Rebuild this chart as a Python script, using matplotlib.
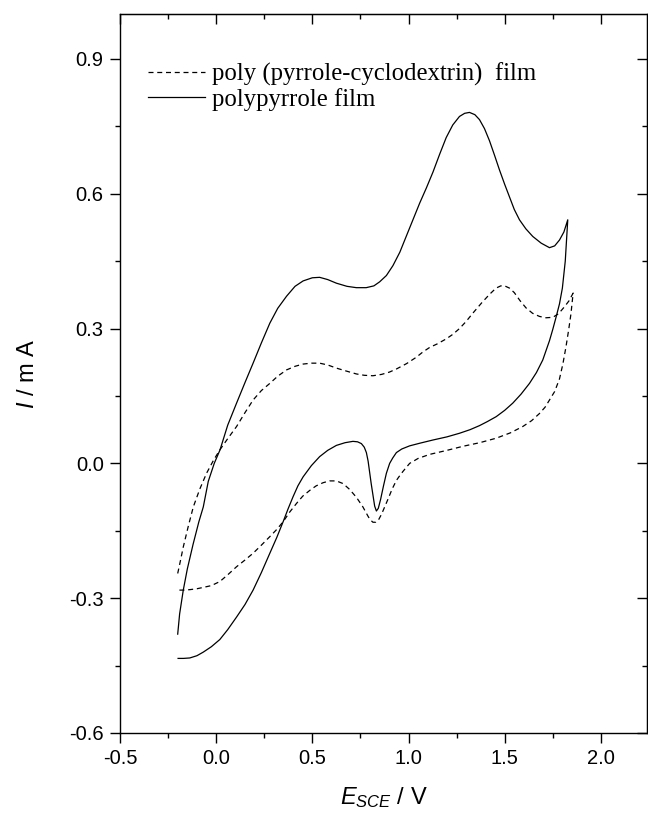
import matplotlib
matplotlib.use("Agg")
import matplotlib.pyplot as plt
import numpy as np

# ---- data ----
# polypyrrole film: anodic (forward) branch
ppy_fwd_x = [-0.200, -0.190, -0.171, -0.150, -0.120, -0.090, -0.067, -0.041, -0.010, 0.020,
             0.060, 0.106, 0.150, 0.192, 0.235, 0.279, 0.320, 0.366, 0.410, 0.452,
             0.500, 0.538, 0.580, 0.625, 0.680, 0.729, 0.780, 0.820, 0.850, 0.885,
             0.919, 0.955, 0.988, 1.023, 1.058, 1.093, 1.127, 1.162, 1.196, 1.230,
             1.265, 1.292, 1.317, 1.345, 1.369, 1.395, 1.421, 1.447, 1.473, 1.500,
             1.525, 1.550, 1.577, 1.610, 1.646, 1.690, 1.733, 1.760, 1.785, 1.808,
             1.828]
ppy_fwd_y = [-0.380, -0.335, -0.282, -0.235, -0.180, -0.130, -0.097, -0.040, 0.000, 0.030,
             0.085, 0.134, 0.180, 0.223, 0.268, 0.312, 0.345, 0.372, 0.394, 0.406,
             0.413, 0.414, 0.409, 0.401, 0.394, 0.391, 0.391, 0.395, 0.404, 0.418,
             0.440, 0.470, 0.505, 0.542, 0.579, 0.613, 0.648, 0.688, 0.725, 0.753,
             0.772, 0.779, 0.781, 0.776, 0.765, 0.745, 0.718, 0.686, 0.653, 0.621,
             0.593, 0.565, 0.542, 0.522, 0.505, 0.490, 0.480, 0.484, 0.497, 0.515,
             0.542]
# polypyrrole film: cathodic (reverse) branch
ppy_rev_x = [1.828, 1.815, 1.800, 1.785, 1.767, 1.750, 1.733, 1.698, 1.665, 1.629,
             1.585, 1.542, 1.500, 1.456, 1.410, 1.369, 1.320, 1.265, 1.200, 1.127,
             1.060, 1.006, 0.965, 0.937, 0.918, 0.902, 0.885, 0.870, 0.855, 0.843,
             0.833, 0.824, 0.815, 0.806, 0.798, 0.790, 0.781, 0.770, 0.755, 0.735,
             0.711, 0.670, 0.625, 0.580, 0.538, 0.495, 0.452, 0.425, 0.400, 0.375,
             0.348, 0.315, 0.279, 0.235, 0.192, 0.150, 0.106, 0.060, 0.019, -0.025,
             -0.067, -0.100, -0.137, -0.170, -0.198]
ppy_rev_y = [0.542, 0.450, 0.390, 0.355, 0.325, 0.298, 0.273, 0.230, 0.202, 0.178,
             0.154, 0.134, 0.118, 0.104, 0.093, 0.084, 0.075, 0.067, 0.059, 0.052,
             0.045, 0.039, 0.032, 0.024, 0.012, 0.000, -0.022, -0.050, -0.080, -0.100,
             -0.106, -0.095, -0.070, -0.045, -0.020, 0.005, 0.024, 0.036, 0.044, 0.048,
             0.049, 0.046, 0.040, 0.029, 0.015, -0.005, -0.030, -0.050, -0.074, -0.100,
             -0.130, -0.165, -0.200, -0.243, -0.282, -0.314, -0.342, -0.370, -0.392, -0.408,
             -0.420, -0.428, -0.433, -0.434, -0.434]

# poly(pyrrole-cyclodextrin) film: forward branch
cd_fwd_x = [-0.200, -0.185, -0.171, -0.145, -0.119, -0.085, -0.050, -0.015, 0.019, 0.060,
            0.106, 0.150, 0.192, 0.235, 0.279, 0.320, 0.366, 0.410, 0.452, 0.495,
            0.538, 0.580, 0.625, 0.680, 0.729, 0.770, 0.815, 0.860, 0.900, 0.937,
            0.990, 1.040, 1.075, 1.110, 1.150, 1.196, 1.230, 1.265, 1.300, 1.334,
            1.380, 1.421, 1.455, 1.480, 1.500, 1.525, 1.550, 1.580, 1.611, 1.645,
            1.681, 1.715, 1.750, 1.780, 1.810, 1.835, 1.856]
cd_fwd_y = [-0.245, -0.215, -0.186, -0.140, -0.097, -0.057, -0.022, 0.006, 0.030, 0.055,
            0.082, 0.113, 0.141, 0.162, 0.178, 0.194, 0.208, 0.216, 0.221, 0.223,
            0.223, 0.219, 0.212, 0.205, 0.199, 0.196, 0.195, 0.198, 0.203, 0.210,
            0.222, 0.236, 0.248, 0.258, 0.266, 0.277, 0.287, 0.300, 0.316, 0.334,
            0.357, 0.376, 0.390, 0.395, 0.395, 0.390, 0.380, 0.362, 0.346, 0.334,
            0.327, 0.324, 0.325, 0.333, 0.348, 0.362, 0.379]
# poly(pyrrole-cyclodextrin) film: reverse branch
cd_rev_x = [1.856, 1.850, 1.845, 1.833, 1.819, 1.803, 1.785, 1.760, 1.733, 1.710,
            1.681, 1.640, 1.594, 1.530, 1.456, 1.370, 1.283, 1.200, 1.110, 1.050,
            1.006, 0.971, 0.950, 0.937, 0.915, 0.895, 0.876, 0.860, 0.845, 0.830,
            0.815, 0.800, 0.790, 0.763, 0.730, 0.694, 0.660, 0.625, 0.590, 0.556,
            0.520, 0.487, 0.450, 0.418, 0.383, 0.348, 0.315, 0.279, 0.235, 0.192,
            0.150, 0.106, 0.060, 0.019, -0.025, -0.067, -0.100, -0.137, -0.170, -0.198]
cd_rev_y = [0.379, 0.355, 0.334, 0.298, 0.260, 0.222, 0.188, 0.160, 0.141, 0.125,
            0.111, 0.095, 0.082, 0.068, 0.056, 0.046, 0.038, 0.029, 0.020, 0.011,
            0.000, -0.018, -0.030, -0.038, -0.057, -0.078, -0.097, -0.113, -0.125, -0.131,
            -0.131, -0.125, -0.118, -0.097, -0.076, -0.058, -0.045, -0.039, -0.039, -0.043,
            -0.050, -0.060, -0.073, -0.089, -0.108, -0.130, -0.147, -0.163, -0.182, -0.200,
            -0.215, -0.230, -0.248, -0.263, -0.272, -0.276, -0.279, -0.281, -0.282, -0.282]

labels = ["poly (pyrrole-cyclodextrin)  film", "polypyrrole film"]
x_major = [-0.5, 0.0, 0.5, 1.0, 1.5, 2.0]
x_tick_labels = ["-0.5", "0.0", "0.5", "1.0", "1.5", "2.0"]
y_major = [-0.6, -0.3, 0.0, 0.3, 0.6, 0.9]
y_tick_labels = ["-0.6", "-0.3", "0.0", "0.3", "0.6", "0.9"]

# ---- style ----
plt.rcParams['font.family'] = ['Liberation Sans', 'DejaVu Sans']
plt.rcParams['mathtext.fontset'] = 'custom'
plt.rcParams['mathtext.rm'] = 'Liberation Sans'
plt.rcParams['mathtext.it'] = 'Liberation Sans:italic'

fig = plt.figure(figsize=(6.48, 8.17), dpi=100)
ax = fig.add_axes([120/648, (817-733)/817, 527/648, (733-14)/817])

cd_x = cd_fwd_x + cd_rev_x[1:]
cd_y = cd_fwd_y + cd_rev_y[1:]
ppy_x = ppy_fwd_x + ppy_rev_x[1:]
ppy_y = ppy_fwd_y + ppy_rev_y[1:]

ax.plot(cd_x, cd_y, color='black', lw=0.9, dashes=(4, 3), label=labels[0])
ax.plot(ppy_x, ppy_y, color='black', lw=0.9, label=labels[1])

ax.set_xlim(-0.5, 2.24)
ax.set_ylim(-0.6, 1.0)

ax.set_xticks(x_major)
ax.set_xticklabels(x_tick_labels)
ax.set_yticks(y_major)
ax.set_yticklabels(y_tick_labels)
x_minor = np.arange(-0.25, 2.25, 0.5)
y_minor = np.arange(-0.45, 1.0, 0.3)
ax.set_xticks(x_minor, minor=True)
ax.set_yticks(y_minor, minor=True)

ax.tick_params(which='major', direction='out', length=7.2, width=1.0, labelsize=14.5, pad=4.5)
ax.tick_params(which='minor', direction='out', length=3.6, width=1.0)
for sp in ax.spines.values():
    sp.set_linewidth(1.0)

secx = ax.secondary_xaxis('top')
secx.set_xticks(x_major)
secx.set_xticks(x_minor, minor=True)
secx.tick_params(which='major', direction='in', length=7.2, width=1.0, labeltop=False)
secx.tick_params(which='minor', direction='in', length=3.6, width=1.0)
secy = ax.secondary_yaxis('right')
secy.set_yticks(y_major)
secy.set_yticks(y_minor, minor=True)
secy.tick_params(which='major', direction='in', length=7.2, width=1.0, labelright=False)
secy.tick_params(which='minor', direction='in', length=3.6, width=1.0)

ax.set_xlabel(r"$\mathit{E}_{\mathit{SCE}}$ / V", fontsize=17, labelpad=12)
ax.set_ylabel(r"$\mathit{I}$ / m A", fontsize=17, labelpad=22)

leg = ax.legend(loc='upper left', bbox_to_anchor=(0.053, 0.932), frameon=False,
                prop={'family': 'Liberation Serif', 'size': 17.8},
                handlelength=2.3, handletextpad=0.28, labelspacing=0.05,
                borderaxespad=0, borderpad=0)

fig.savefig("out.png", dpi=100)
